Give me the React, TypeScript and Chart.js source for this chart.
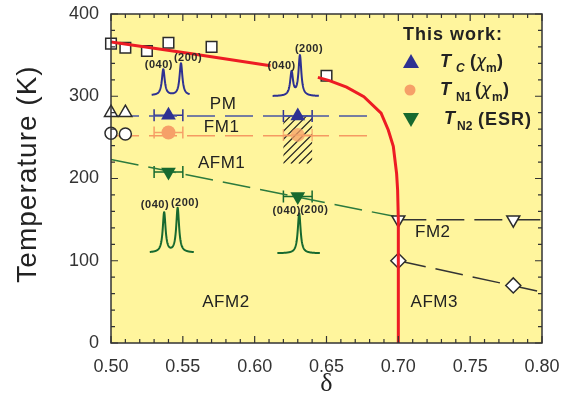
import { useEffect, useRef } from 'react';
import { Chart, registerables } from 'chart.js';
Chart.register(...registerables);

// ---------- axis ranges ----------
const X_MIN = 0.5, X_MAX = 0.8, X_STEP = 0.05, X_MINOR = 0.01;
const Y_MIN = 0, Y_MAX = 400, Y_STEP = 100, Y_MINOR = 20;

// ---------- red phase boundary ----------
const redX1 = [0.5, 0.555, 0.611];
const redT1 = [366, 352, 337];
const redX2 = [0.644, 0.652, 0.664, 0.676, 0.688, 0.693, 0.6965, 0.6988, 0.6995, 0.7, 0.7];
const redT2 = [323, 319, 311, 299.5, 279.5, 259, 239, 206, 186, 150, 0];

// ---------- literature data (open symbols) ----------
const squareX = [0.5, 0.51, 0.525, 0.54, 0.57, 0.65];
const squareT = [364, 359, 355, 365, 360, 325];
const openUpX = [0.5, 0.51];
const openUpT = [280, 280];
const openCircleX = [0.5, 0.51];
const openCircleT = [255, 254];
const openDownX = [0.7, 0.78];
const openDownT = [150, 150];
const diamondX = [0.7, 0.78];
const diamondT = [100, 70];

// ---------- this work ----------
const tcX = [0.54, 0.63];
const tcT = [277, 276];
const tcErr = [0.01, 0.01];
const tn1X = [0.54, 0.63];
const tn1T = [256, 253];
const tn1Err = [0.01, 0.01];
const tn2X = [0.54, 0.63];
const tn2T = [208, 178];
const tn2Err = [0.01, 0.01];

// ---------- dashed guide lines ----------
const pmLineX = [0.5, 0.682];
const pmLineT = [276, 276];
const fm1LineX = [0.5, 0.684];
const fm1LineT = [252, 252];
const afm1LineX = [0.5, 0.697];
const afm1LineT = [223, 154];
const fm2LineX = [0.7, 0.8];
const fm2LineT = [150, 150];
const afm3LineX = [0.7, 0.8];
const afm3LineT = [100, 62];

// hatched uncertainty box
const hatchX = [0.62, 0.64];
const hatchT = [218, 277];

// phase labels
const phaseLabels = ['PM', 'FM1', 'AFM1', 'AFM2', 'FM2', 'AFM3'];
const phaseX = [0.578, 0.577, 0.577, 0.58, 0.724, 0.725];
const phaseT = [290, 262, 218, 49, 135, 49];

// diffraction-peak insets
const specRangeX = [[0.5283, 0.5548], [0.6125, 0.6447], [0.527, 0.5577], [0.6158, 0.6455]];
const specBaseT = [301, 300, 109.8, 109];
const specPeakX = [[0.5364, 0.5487], [0.6257, 0.6315], [0.537, 0.5464], [0.631]];
const specPeakT = [[332.7, 340], [329, 349], [158.4, 163.8], [157.7]];
const specLabelX = [[0.5333, 0.5536], [0.6188, 0.6378], [0.5306, 0.5515], [0.6223, 0.6415]];
const specLabelT = [[338.6, 347], [337.4, 357.4], [167.8, 170.6], [160.8, 161.6]];
const peakNames = ['(040)', '(200)'];

// ---------- style ----------
const RED = '#ED1C24';
const BLUE = '#2E3192';
const ORANGE = '#F6A068';
const GREEN = '#17692F';
const DARK = '#2b2b2b';
const BG = '#FFF59D';
const SANS = '"Liberation Sans", Arial, sans-serif';

const pts = (xs: number[], ys: number[]) => xs.map((x, i) => ({ x, y: ys[i] }));

const AREA = { left: 111, top: 14, right: 542, bottom: 343 };

const decorPlugin = {
  id: 'decor',
  beforeDraw(chart: any) {
    const { ctx, chartArea: a } = chart;
    ctx.save();
    ctx.fillStyle = BG;
    ctx.fillRect(a.left, a.top, a.right - a.left, a.bottom - a.top);
    ctx.restore();
  },
  beforeDatasetsDraw(chart: any) {
    const { ctx } = chart;
    const xs = chart.scales.x, ys = chart.scales.y;
    // hatch
    const hl = xs.getPixelForValue(hatchX[0]), hr = xs.getPixelForValue(hatchX[1]);
    const hb = ys.getPixelForValue(hatchT[0]), ht = ys.getPixelForValue(hatchT[1]);
    ctx.save();
    ctx.beginPath();
    ctx.rect(hl, ht, hr - hl, hb - ht);
    ctx.clip();
    ctx.strokeStyle = '#1e1e1e';
    ctx.lineWidth = 1.2;
    const H = hb - ht;
    for (let k = -H; k < hr - hl + 2; k += 8) {
      ctx.beginPath();
      ctx.moveTo(hl + k, hb);
      ctx.lineTo(hl + k + H, ht);
      ctx.stroke();
    }
    ctx.restore();
    // error bars
    const series = [
      { X: tcX, T: tcT, E: tcErr, c: BLUE },
      { X: tn1X, T: tn1T, E: tn1Err, c: ORANGE },
      { X: tn2X, T: tn2T, E: tn2Err, c: GREEN },
    ];
    ctx.save();
    ctx.lineWidth = 1.5;
    series.forEach((s, si) => {
      s.X.forEach((x, i) => {
        const l = xs.getPixelForValue(x - s.E[i]);
        const r = xs.getPixelForValue(x + s.E[i]);
        const y = ys.getPixelForValue(s.T[i]);
        ctx.globalAlpha = si === 1 && i === 1 ? 0.75 : 1;
        ctx.strokeStyle = s.c;
        ctx.beginPath();
        ctx.moveTo(l, y); ctx.lineTo(r, y);
        ctx.moveTo(l, y - 6); ctx.lineTo(l, y + 6);
        ctx.moveTo(r, y - 6); ctx.lineTo(r, y + 6);
        ctx.stroke();
      });
    });
    ctx.restore();
  },
  afterDatasetsDraw(chart: any) {
    const { ctx } = chart;
    const xs = chart.scales.x, ys = chart.scales.y;
    // spectra
    const specColors = [BLUE, BLUE, GREEN, GREEN];
    ctx.save();
    specRangeX.forEach((rng, i) => {
      const x0 = xs.getPixelForValue(rng[0]);
      const x1 = xs.getPixelForValue(rng[1]);
      const yb = ys.getPixelForValue(specBaseT[i]);
      const peaks = specPeakX[i].map((c, k) => ({
        c: xs.getPixelForValue(c),
        h: yb - ys.getPixelForValue(specPeakT[i][k]),
      }));
      const g = 1.7;
      ctx.strokeStyle = specColors[i];
      ctx.lineWidth = 2;
      ctx.lineJoin = 'round';
      ctx.beginPath();
      for (let x = x0; x <= x1 + 0.01; x += 0.25) {
        let y = yb;
        peaks.forEach((p) => { y -= p.h * g * g / ((x - p.c) * (x - p.c) + g * g); });
        if (x === x0) ctx.moveTo(x, y); else ctx.lineTo(x, y);
      }
      ctx.stroke();
      ctx.fillStyle = '#2a2a2a';
      ctx.font = `bold 11px ${SANS}`;
      ctx.textAlign = 'center';
      ctx.textBaseline = 'middle';
      (ctx as any).letterSpacing = '0.5px';
      specLabelX[i].forEach((lx, k) => {
        ctx.fillText(peakNames[k], xs.getPixelForValue(lx), ys.getPixelForValue(specLabelT[i][k]));
      });
    });
    // phase labels
    ctx.fillStyle = '#222';
    ctx.font = `17px ${SANS}`;
    (ctx as any).letterSpacing = '0.5px';
    phaseLabels.forEach((t, i) => {
      ctx.fillText(t, xs.getPixelForValue(phaseX[i]), ys.getPixelForValue(phaseT[i]));
    });
    ctx.restore();
  },
  afterDraw(chart: any) {
    const { ctx, chartArea: a } = chart;
    const xs = chart.scales.x, ys = chart.scales.y;
    ctx.save();
    // frame
    ctx.strokeStyle = '#333';
    ctx.lineWidth = 1.5;
    ctx.strokeRect(a.left, a.top, a.right - a.left, a.bottom - a.top);
    // inward ticks
    ctx.lineWidth = 1.2;
    ctx.beginPath();
    const nx = Math.round((X_MAX - X_MIN) / X_MINOR);
    for (let i = 0; i <= nx; i++) {
      const v = X_MIN + i * X_MINOR;
      const p = xs.getPixelForValue(v);
      const len = i % Math.round(X_STEP / X_MINOR) === 0 ? 7 : 4;
      ctx.moveTo(p, a.bottom); ctx.lineTo(p, a.bottom - len);
      ctx.moveTo(p, a.top); ctx.lineTo(p, a.top + len);
    }
    const ny = Math.round((Y_MAX - Y_MIN) / Y_MINOR);
    for (let i = 0; i <= ny; i++) {
      const v = Y_MIN + i * Y_MINOR;
      const p = ys.getPixelForValue(v);
      const len = i % Math.round(Y_STEP / Y_MINOR) === 0 ? 7 : 4;
      ctx.moveTo(a.left, p); ctx.lineTo(a.left + len, p);
      ctx.moveTo(a.right, p); ctx.lineTo(a.right - len, p);
    }
    ctx.stroke();

    // axis titles
    ctx.fillStyle = '#222';
    ctx.textAlign = 'center';
    ctx.textBaseline = 'middle';
    ctx.save();
    ctx.translate(28, 174);
    ctx.rotate(-Math.PI / 2);
    ctx.font = `28px ${SANS}`;
    (ctx as any).letterSpacing = '1px';
    ctx.fillText('Temperature (K)', 0, 0);
    ctx.restore();
    (ctx as any).letterSpacing = '0px';
    ctx.font = '26px "Liberation Serif", "DejaVu Serif", serif';
    ctx.fillText('δ', (a.left + a.right) / 2, 384);

    // legend
    ctx.textAlign = 'left';
    ctx.fillStyle = '#222';
    (ctx as any).letterSpacing = '1px';
    ctx.font = `bold 18px ${SANS}`;
    ctx.fillText('This work:', 403, 35);
    const big = `bold 18px ${SANS}`;
    const bigI = `italic bold 18px ${SANS}`;
    const chi = `italic 17px "DejaVu Sans", ${SANS}`;
    const sub = `bold 12px ${SANS}`;
    const subI = `italic bold 12px ${SANS}`;
    // markers
    ctx.fillStyle = BLUE;
    ctx.beginPath();
    ctx.moveTo(411, 54); ctx.lineTo(419, 68); ctx.lineTo(403, 68); ctx.closePath(); ctx.fill();
    ctx.fillStyle = ORANGE;
    ctx.beginPath(); ctx.arc(410, 90, 5.5, 0, Math.PI * 2); ctx.fill();
    ctx.fillStyle = GREEN;
    ctx.beginPath();
    ctx.moveTo(403, 113); ctx.lineTo(419, 113); ctx.lineTo(411, 127); ctx.closePath(); ctx.fill();
    // texts
    ctx.fillStyle = '#222';
    (ctx as any).letterSpacing = '0px';
    const put = (t: string, f: string, x: number, y: number) => { ctx.font = f; ctx.fillText(t, x, y); };
    put('T', bigI, 440, 62); put('C', subI, 456, 69);
    put('(', big, 470, 62); put('χ', chi, 476, 63); put('m', sub, 486, 69); put(')', big, 497, 62);
    put('T', bigI, 440, 90); put('N1', sub, 456, 98);
    put('(', big, 475, 90); put('χ', chi, 481, 91); put('m', sub, 492, 98); put(')', big, 503, 90);
    put('T', bigI, 444, 119); put('N2', sub, 457, 127);
    (ctx as any).letterSpacing = '1px';
    put('(ESR)', big, 478, 120);
    ctx.restore();
  },
};

export default function App() {
  const ref = useRef<HTMLCanvasElement | null>(null);
  useEffect(() => {
    if (!ref.current) return;
    const openMarker = { backgroundColor: '#ffffff', borderColor: DARK, borderWidth: 1.5, clip: false as any };
    const dashed = (color: string, width = 1.5) => ({
      showLine: true, borderColor: color, borderWidth: width, borderDash: [28, 10],
      pointRadius: 0, order: 10, clip: false as any,
    });
    const chart = new Chart(ref.current, {
      type: 'scatter',
      data: {
        datasets: [
          {
            label: 'boundary',
            data: [...pts(redX1, redT1), { x: 0.627, y: null as any }, ...pts(redX2, redT2)],
            showLine: true, spanGaps: false, borderColor: RED, borderWidth: 3, pointRadius: 0, order: 0,
          },
          { label: 'Tc', data: pts(tcX, tcT), pointStyle: 'triangle', pointRadius: 8.5, backgroundColor: BLUE, borderColor: BLUE, borderWidth: 0, order: 1, clip: false as any },
          { label: 'TN1', data: pts(tn1X, tn1T), pointStyle: 'circle', pointRadius: 7, backgroundColor: [ORANGE, 'rgba(246,160,104,0.75)'], borderWidth: 0, order: 1, clip: false as any },
          { label: 'TN2', data: pts(tn2X, tn2T), pointStyle: 'triangle', rotation: 180, pointRadius: 8.5, backgroundColor: GREEN, borderWidth: 0, order: 1, clip: false as any },
          { label: 'sq', data: pts(squareX, squareT), pointStyle: 'rect', pointRadius: 7.5, ...openMarker, order: 2 },
          { label: 'up', data: pts(openUpX, openUpT), pointStyle: 'triangle', pointRadius: 7.5, ...openMarker, order: 2 },
          { label: 'circ', data: pts(openCircleX, openCircleT), pointStyle: 'circle', pointRadius: 6, ...openMarker, order: 2 },
          { label: 'down', data: pts(openDownX, openDownT), pointStyle: 'triangle', rotation: 180, pointRadius: 7.5, ...openMarker, order: 2 },
          { label: 'diam', data: pts(diamondX, diamondT), pointStyle: 'rectRot', pointRadius: 7.5, ...openMarker, order: 2 },
          { label: 'pm', data: pts(pmLineX, pmLineT), ...dashed('#4a55a2') },
          { label: 'fm1', data: pts(fm1LineX, fm1LineT), ...dashed('#F59A62') },
          { label: 'afm1', data: pts(afm1LineX, afm1LineT), ...dashed('#2C7A3E') },
          { label: 'fm2', data: pts(fm2LineX, fm2LineT), ...dashed('#333333') },
          { label: 'afm3', data: pts(afm3LineX, afm3LineT), ...dashed('#333333') },
        ] as any,
      },
      options: {
        animation: false,
        responsive: false,
        events: [],
        layout: { padding: { left: 0, top: AREA.top, right: 570 - AREA.right, bottom: 0 } },
        plugins: { legend: { display: false }, tooltip: { enabled: false } },
        scales: {
          x: {
            type: 'linear', min: X_MIN, max: X_MAX,
            grid: { display: false, drawTicks: false, tickLength: 0 },
            border: { display: false },
            ticks: {
              stepSize: X_STEP, padding: 13, color: '#333',
              font: { family: SANS, size: 18 },
              callback: (v: any) => Number(v).toFixed(2),
            },
            afterFit: (s: any) => {
              s.height = 401 - AREA.bottom;
              s.paddingLeft = 0; s.paddingRight = 0; s.paddingTop = 0; s.paddingBottom = 0;
            },
          },
          y: {
            type: 'linear', min: Y_MIN, max: Y_MAX,
            grid: { display: false, drawTicks: false, tickLength: 0 },
            border: { display: false },
            ticks: { stepSize: Y_STEP, padding: 12, color: '#333', font: { family: SANS, size: 18 } },
            afterFit: (s: any) => {
              s.width = AREA.left;
              s.paddingLeft = 0; s.paddingRight = 0; s.paddingTop = 0; s.paddingBottom = 0;
            },
          },
        },
      } as any,
      plugins: [decorPlugin],
    });
    return () => chart.destroy();
  }, []);
  return (
    <div style={{ position: 'absolute', left: 0, top: 0, width: 570, height: 401, background: '#fff' }}>
      <canvas ref={ref} width={570} height={401} style={{ display: 'block' }} />
    </div>
  );
}
